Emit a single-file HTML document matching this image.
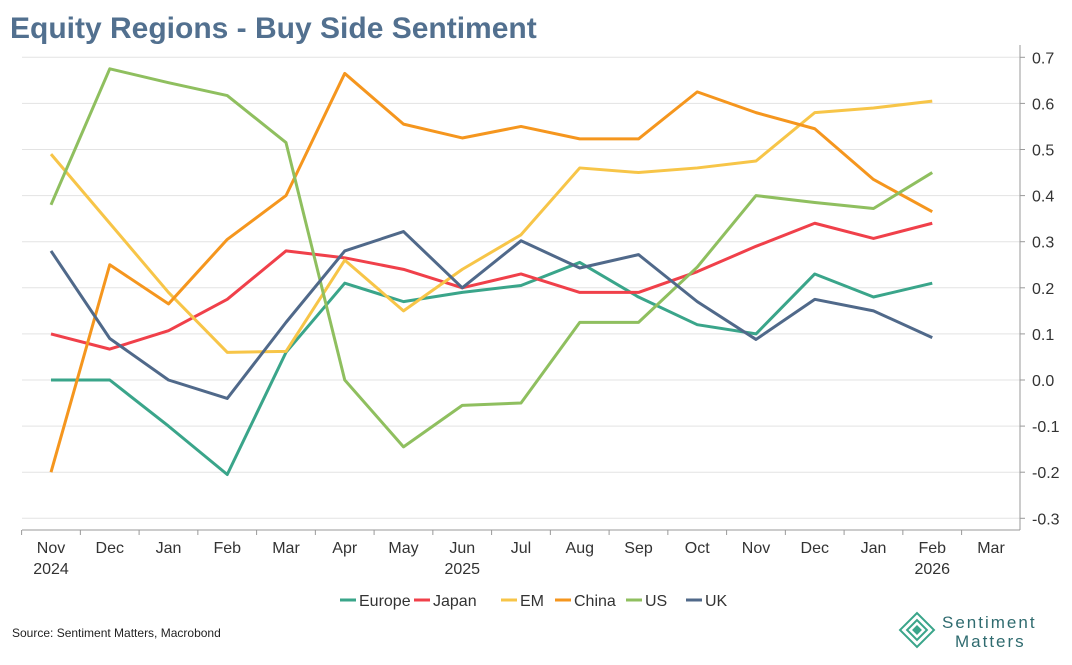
<!DOCTYPE html>
<html><head><meta charset="utf-8"><style>
body{margin:0;background:#fff;font-family:"Liberation Sans",sans-serif;}
svg text{font-family:"Liberation Sans",sans-serif;}
</style></head><body>
<svg id="chart" width="1072" height="660">
<text x="10" y="38" font-size="30" font-weight="bold" fill="#52708f">Equity Regions - Buy Side Sentiment</text>
<g id="grid"></g><g id="axes"></g><g id="lines"></g><g id="legend"></g>
<text x="12" y="637" font-size="12" fill="#222">Source: Sentiment Matters, Macrobond</text>
<g>
<g transform="translate(917,630) rotate(45)" fill="none" stroke="#3aa58a" stroke-width="2">
<rect x="-12" y="-12" width="24" height="24"/><rect x="-7" y="-7" width="14" height="14"/><rect x="-2.5" y="-2.5" width="5" height="5" fill="#3aa58a"/></g>
<text x="942" y="628" font-size="17" fill="#2f6b6f" letter-spacing="2">Sentiment</text>
<text x="955" y="647" font-size="17" fill="#2f6b6f" letter-spacing="2">Matters</text>
</g>
</svg>
<script>
const categories=["Nov","Dec","Jan","Feb","Mar","Apr","May","Jun","Jul","Aug","Sep","Oct","Nov","Dec","Jan","Feb","Mar"];
const yearLabels=[[0,"2024"],[7,"2025"],[15,"2026"]];
const yTicks=[0.7,0.6,0.5,0.4,0.3,0.2,0.1,0.0,-0.1,-0.2,-0.3];
const europe=[0.0,0.0,-0.1,-0.205,0.06,0.21,0.17,0.19,0.205,0.255,0.18,0.12,0.10,0.23,0.18,0.21];
const japan=[0.10,0.067,0.107,0.175,0.28,0.265,0.24,0.20,0.23,0.19,0.19,0.235,0.29,0.34,0.307,0.34];
const em=[0.49,0.34,0.19,0.06,0.062,0.26,0.15,0.24,0.315,0.46,0.45,0.46,0.475,0.58,0.59,0.605];
const china=[-0.2,0.25,0.165,0.305,0.40,0.665,0.555,0.525,0.55,0.523,0.523,0.625,0.58,0.545,0.435,0.365];
const us=[0.38,0.675,0.645,0.617,0.515,0.0,-0.145,-0.055,-0.05,0.125,0.125,0.245,0.40,0.385,0.372,0.45];
const uk=[0.28,0.09,0.0,-0.04,0.125,0.28,0.322,0.2,0.302,0.243,0.272,0.17,0.088,0.175,0.15,0.092];
const seriesNames=["Europe","Japan","EM","China","US","UK"];
const seriesData=[europe,japan,em,china,us,uk];
const seriesColors=["#3aa58a","#f0404a","#f7c548","#f5961e","#8fbf5f","#50698a"];
const NS="http://www.w3.org/2000/svg";
const x=i=>51+i*58.75, y=v=>380-v*461;
function mk(t,a,p){const e=document.createElementNS(NS,t);for(const k in a)e.setAttribute(k,a[k]);p.appendChild(e);return e;}
const grid=document.getElementById('grid'),axes=document.getElementById('axes'),lines=document.getElementById('lines'),legend=document.getElementById('legend');
yTicks.forEach(v=>{
 const g=mk('line',{x1:22,x2:1020,y1:y(v),y2:y(v),stroke:"#e3e3e3","stroke-width":1},grid);
 
 
 mk('line',{x1:1020,x2:1025,y1:y(v),y2:y(v),stroke:"#999"},axes);
 const t=mk('text',{x:1032,y:y(v)+6,"font-size":16,fill:"#333"},axes);
 t.textContent=v.toFixed(1);
 
 
});
mk('line',{x1:1020,x2:1020,y1:45,y2:530,stroke:"#999"},axes);
mk('line',{x1:22,x2:1020,y1:530,y2:530,stroke:"#999"},axes);
categories.forEach((c,i)=>{
 mk('line',{x1:x(i)-29.4,x2:x(i)-29.4,y1:530,y2:535,stroke:"#999"},axes);
 const t=mk('text',{x:x(i),y:553,"font-size":16,fill:"#333","text-anchor":"middle"},axes);
 t.textContent=c;
 
 
});
yearLabels.forEach(([i,l])=>{
 const t=mk('text',{x:x(i),y:574,"font-size":16,fill:"#333","text-anchor":"middle"},axes);
 t.textContent=l;
 
 
});
seriesData.forEach((d,s)=>{
 const p=mk('polyline',{points:d.map((v,i)=>x(i)+","+y(v)).join(" "),fill:"none",stroke:seriesColors[s],"stroke-width":3,"stroke-linejoin":"round"},lines);
 
 
});
const lx=[340,414,501,555,626,686];
seriesNames.forEach((n,s)=>{
 const g=mk('g',{},legend);
 
 
 mk('line',{x1:lx[s],x2:lx[s]+16,y1:600,y2:600,stroke:seriesColors[s],"stroke-width":3},g);
 const t=mk('text',{x:lx[s]+19,y:606,"font-size":16,fill:"#333"},g);
 t.textContent=n;
});
</script>
</body></html>
